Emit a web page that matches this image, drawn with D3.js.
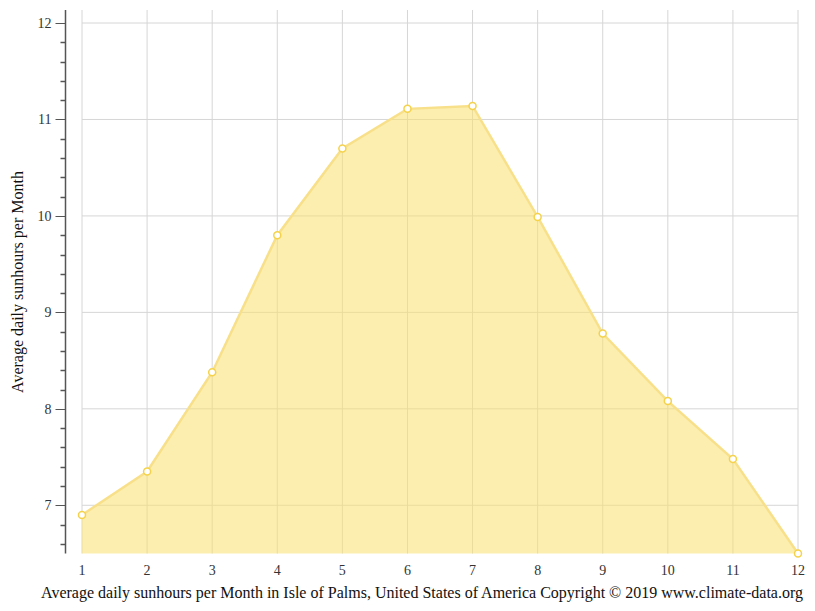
<!DOCTYPE html>
<html><head><meta charset="utf-8">
<script src="https://cdn.jsdelivr.net/npm/d3@7"></script>
<style>body{margin:0;background:#fff;}svg{display:block;font-family:"Liberation Serif","Times New Roman",serif;}</style>
</head><body>
<svg id="c" width="815" height="611"></svg>
<script>
const months = [1,2,3,4,5,6,7,8,9,10,11,12];
const sunhours = [6.9,7.35,8.38,9.8,10.7,11.11,11.14,9.99,8.78,8.08,7.48,6.5];
const yTicks = [7,8,9,10,11,12];
const yLabel = "Average daily sunhours per Month";
const caption = "Average daily sunhours per Month in Isle of Palms, United States of America Copyright © 2019 www.climate-data.org";

const svg = d3.select("#c");
const x = d3.scaleLinear().domain([1,12]).range([82,798]);
const y = d3.scaleLinear().domain([6.5,12.135]).range([553.5,10]);

// grid
const g = svg.append("g");
g.selectAll("line.v").data(months).enter().append("line")
  .attr("x1",d=>x(d)).attr("x2",d=>x(d)).attr("y1",10).attr("y2",553.5)
  .attr("stroke","#d6d6d6").attr("stroke-width",1);
g.selectAll("line.h").data(yTicks).enter().append("line")
  .attr("x1",82).attr("x2",798).attr("y1",d=>y(d)).attr("y2",d=>y(d))
  .attr("stroke","#d6d6d6").attr("stroke-width",1);

// area
const pts = months.map((m,i)=>[m,sunhours[i]]);
svg.append("path").datum(pts)
  .attr("d", d3.area().x(d=>x(d[0])).y0(y(6.5)).y1(d=>y(d[1])))
  .attr("fill","rgba(247,224,110,0.55)");
svg.append("path").datum(pts)
  .attr("d", d3.line().x(d=>x(d[0])).y(d=>y(d[1])))
  .attr("fill","none").attr("stroke","#f8e08a").attr("stroke-width",2.5);
svg.selectAll("circle").data(pts).enter().append("circle")
  .attr("cx",d=>x(d[0])).attr("cy",d=>y(d[1])).attr("r",3.5)
  .attr("fill","#fff").attr("stroke","#f5d24a").attr("stroke-width",1.5);

// y axis
const minor = d3.range(6.6,12.13,0.2).filter(v=>Math.abs(v-Math.round(v))>0.01);
const ax = svg.append("g").attr("transform","translate(65.5,0)");
ax.append("line").attr("x1",0).attr("x2",0).attr("y1",10).attr("y2",553.5).attr("stroke","#555").attr("stroke-width",1.5);
ax.selectAll("line.mj").data(yTicks).enter().append("line")
  .attr("x1",-10).attr("x2",0).attr("y1",d=>Math.round(y(d))+0.5).attr("y2",d=>Math.round(y(d))+0.5)
  .attr("stroke","#555");
ax.selectAll("line.mn").data(minor).enter().append("line")
  .attr("x1",-5).attr("x2",0).attr("y1",d=>Math.round(y(d))+0.5).attr("y2",d=>Math.round(y(d))+0.5)
  .attr("stroke","#555").attr("stroke-width",1.5);
ax.selectAll("text").data(yTicks).enter().append("text")
  .attr("x",-14).attr("y",d=>y(d)).attr("dy","0.35em").attr("text-anchor","end")
  .attr("font-size",14).attr("fill","#333").text(d=>d);

// x labels
svg.selectAll("text.xl").data(months).enter().append("text")
  .attr("x",d=>x(d)).attr("y",575).attr("text-anchor","middle")
  .attr("font-size",14).attr("fill","#333").text(d=>d);

svg.append("text").attr("transform","translate(23,282) rotate(-90)")
  .attr("text-anchor","middle").attr("font-size",16).attr("fill","#111").text(yLabel);
svg.append("text").attr("x",422).attr("y",598).attr("text-anchor","middle")
  .attr("font-size",16).attr("fill","#111").text(caption);
</script>
</body></html>
